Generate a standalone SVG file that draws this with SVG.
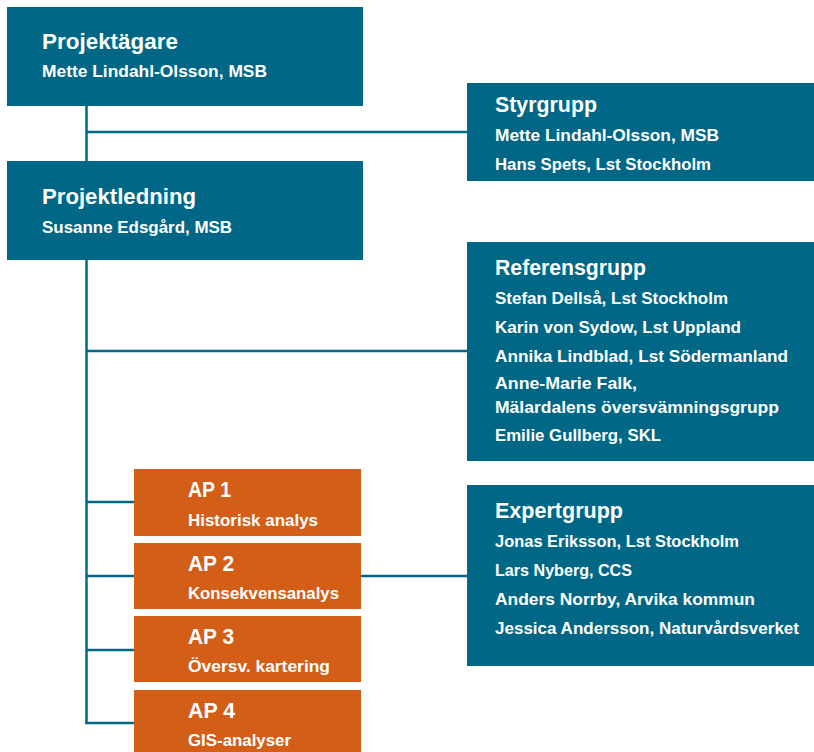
<svg xmlns="http://www.w3.org/2000/svg" width="814" height="752" viewBox="0 0 814 752">
  <style>
    .blue { fill: #006786; }
    .orange { fill: #D25E17; }
    .conn { stroke: #006786; stroke-width: 2.5; fill: none; }
    text { fill: #ffffff; font-family: "Liberation Sans", Arial, sans-serif; font-weight: bold; }
    .t { font-size: 22.5px; }
    .s { font-size: 17px; }
  </style>
  <rect width="814" height="752" fill="#ffffff"/>

  <!-- connectors -->
  <g id="connectors" class="conn">
    <line x1="86.5" y1="106" x2="86.5" y2="161"/>
    <line x1="86.5" y1="132" x2="467" y2="132"/>
    <line x1="86.5" y1="260" x2="86.5" y2="724"/>
    <line x1="86.5" y1="351" x2="467" y2="351"/>
    <line x1="86.5" y1="502" x2="134" y2="502"/>
    <line x1="86.5" y1="576" x2="134" y2="576"/>
    <line x1="86.5" y1="650" x2="134" y2="650"/>
    <line x1="85.25" y1="723" x2="134" y2="723"/>
    <line x1="361" y1="576" x2="467" y2="576"/>
  </g>

  <g id="projektagare">
    <rect class="blue" x="7" y="7" width="356" height="99"/>
    <text class="t" x="42" y="49" textLength="136" lengthAdjust="spacingAndGlyphs">Projektägare</text>
    <text class="s" x="42" y="77" textLength="225" lengthAdjust="spacingAndGlyphs">Mette Lindahl-Olsson, MSB</text>
  </g>

  <g id="projektledning">
    <rect class="blue" x="7" y="161" width="356" height="99"/>
    <text class="t" x="42" y="204" textLength="154" lengthAdjust="spacingAndGlyphs">Projektledning</text>
    <text class="s" x="42" y="233" textLength="190" lengthAdjust="spacingAndGlyphs">Susanne Edsgård, MSB</text>
  </g>

  <g id="styrgrupp">
    <rect class="blue" x="467" y="83" width="347" height="98"/>
    <text class="t" x="495" y="112" textLength="102" lengthAdjust="spacingAndGlyphs">Styrgrupp</text>
    <text class="s" x="495" y="141" textLength="224" lengthAdjust="spacingAndGlyphs">Mette Lindahl-Olsson, MSB</text>
    <text class="s" x="495" y="170" textLength="216" lengthAdjust="spacingAndGlyphs">Hans Spets, Lst Stockholm</text>
  </g>

  <g id="referensgrupp">
    <rect class="blue" x="467" y="242" width="347" height="219"/>
    <text class="t" x="495" y="275" textLength="151" lengthAdjust="spacingAndGlyphs">Referensgrupp</text>
    <text class="s" x="495" y="304" textLength="233" lengthAdjust="spacingAndGlyphs">Stefan Dellså, Lst Stockholm</text>
    <text class="s" x="495" y="333" textLength="246" lengthAdjust="spacingAndGlyphs">Karin von Sydow, Lst Uppland</text>
    <text class="s" x="495" y="362" textLength="293" lengthAdjust="spacingAndGlyphs">Annika Lindblad, Lst Södermanland</text>
    <text class="s" x="495" y="389" textLength="142" lengthAdjust="spacingAndGlyphs">Anne-Marie Falk,</text>
    <text class="s" x="495" y="413" textLength="284" lengthAdjust="spacingAndGlyphs">Mälardalens översvämningsgrupp</text>
    <text class="s" x="495" y="441" textLength="166" lengthAdjust="spacingAndGlyphs">Emilie Gullberg, SKL</text>
  </g>

  <g id="expertgrupp">
    <rect class="blue" x="467" y="485" width="347" height="181"/>
    <text class="t" x="495" y="518" textLength="128" lengthAdjust="spacingAndGlyphs">Expertgrupp</text>
    <text class="s" x="495" y="547" textLength="244" lengthAdjust="spacingAndGlyphs">Jonas Eriksson, Lst Stockholm</text>
    <text class="s" x="495" y="576" textLength="137" lengthAdjust="spacingAndGlyphs">Lars Nyberg, CCS</text>
    <text class="s" x="495" y="605" textLength="260" lengthAdjust="spacingAndGlyphs">Anders Norrby, Arvika kommun</text>
    <text class="s" x="495" y="634" textLength="304" lengthAdjust="spacingAndGlyphs">Jessica Andersson, Naturvårdsverket</text>
  </g>

  <g id="ap1">
    <rect class="orange" x="134" y="469" width="227" height="67"/>
    <text class="t" x="188" y="497" textLength="43" lengthAdjust="spacingAndGlyphs">AP 1</text>
    <text class="s" x="188" y="526" textLength="130" lengthAdjust="spacingAndGlyphs">Historisk analys</text>
  </g>

  <g id="ap2">
    <rect class="orange" x="134" y="543" width="227" height="66"/>
    <text class="t" x="188" y="571" textLength="46" lengthAdjust="spacingAndGlyphs">AP 2</text>
    <text class="s" x="188" y="599" textLength="151" lengthAdjust="spacingAndGlyphs">Konsekvensanalys</text>
  </g>

  <g id="ap3">
    <rect class="orange" x="134" y="616" width="227" height="66"/>
    <text class="t" x="188" y="644" textLength="46" lengthAdjust="spacingAndGlyphs">AP 3</text>
    <text class="s" x="188" y="672" textLength="142" lengthAdjust="spacingAndGlyphs">Översv. kartering</text>
  </g>

  <g id="ap4">
    <rect class="orange" x="134" y="690" width="227" height="62"/>
    <text class="t" x="188" y="718" textLength="47" lengthAdjust="spacingAndGlyphs">AP 4</text>
    <text class="s" x="188" y="746" textLength="103" lengthAdjust="spacingAndGlyphs">GIS-analyser</text>
  </g>
</svg>
